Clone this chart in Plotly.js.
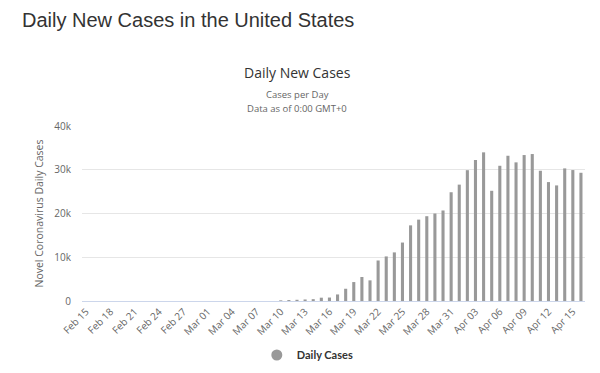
<!DOCTYPE html>
<html>
<head>
<meta charset="utf-8">
<script src="https://cdn.plot.ly/plotly-3.0.1.min.js"></script>
<style>html,body{margin:0;padding:0;background:#fff;}#chart{width:600px;height:373px;}</style>
</head>
<body>
<div id="chart"></div>
<script>
const dates = [
  "Feb 15","Feb 16","Feb 17","Feb 18","Feb 19","Feb 20","Feb 21","Feb 22","Feb 23","Feb 24","Feb 25","Feb 26","Feb 27","Feb 28","Feb 29",
  "Mar 01","Mar 02","Mar 03","Mar 04","Mar 05","Mar 06","Mar 07","Mar 08","Mar 09","Mar 10","Mar 11","Mar 12","Mar 13","Mar 14","Mar 15",
  "Mar 16","Mar 17","Mar 18","Mar 19","Mar 20","Mar 21","Mar 22","Mar 23","Mar 24","Mar 25","Mar 26","Mar 27","Mar 28","Mar 29","Mar 30","Mar 31",
  "Apr 01","Apr 02","Apr 03","Apr 04","Apr 05","Apr 06","Apr 07","Apr 08","Apr 09","Apr 10","Apr 11","Apr 12","Apr 13","Apr 14","Apr 15","Apr 16"
];
const dailyCases = [
  0,0,0,0,0,0,0,0,0,0,0,0,0,0,0,
  0,0,0,0,0,0,0,0,0,150,220,280,350,420,760,
  790,1500,2800,4330,5490,4720,9260,10190,11110,13360,17290,18600,19380,20000,20690,24860,
  26600,29900,32220,33980,25190,30910,33200,31690,33360,33590,29770,27180,26420,30310,29930,29310
];
const tickLabels = dates.filter((d, i) => i % 3 === 0);
const yTicks = [0, 10000, 20000, 30000, 40000];
const yTickText = ["0", "10k", "20k", "30k", "40k"];

const barColor = "#999999";
const traces = [
  {
    type: "bar", x: dates, y: dailyCases, name: "Daily Cases",
    marker: {color: barColor}, showlegend: false,
    hovertemplate: "%{x}: %{y}<extra></extra>"
  },
  {
    type: "scatter", mode: "markers", x: [null], y: [null], name: "Daily Cases",
    marker: {color: barColor, size: 11, symbol: "circle"}, showlegend: true
  }
];

const plotH = 175;
const layout = {
  width: 600, height: 373,
  margin: {l: 82, r: 15, t: 126, b: 72},
  paper_bgcolor: "#fff", plot_bgcolor: "#fff",
  font: {family: "Open Sans, DejaVu Sans, sans-serif", color: "#666", size: 10},
  bargap: 0.62,
  showlegend: true,
  legend: {orientation: "h", xref: "container", yref: "container", x: 0.428, xanchor: "left", y: 1 - 355/373, yanchor: "middle", itemwidth: 30,
           font: {size: 11, color: "#333", weight: "bold", family: "Lato, Open Sans, sans-serif"}},
  xaxis: {
    type: "category", tickvals: tickLabels, ticktext: tickLabels, tickangle: -45, automargin: false,
    showgrid: false, showline: true, linecolor: "#ccd6eb", linewidth: 1,
    ticks: "", tickfont: {size: 10, color: "#666"}, zeroline: false, fixedrange: true
  },
  yaxis: {
    range: [0, 40000], tickvals: yTicks, ticktext: yTickText, automargin: false,
    showgrid: true, gridcolor: "#e6e6e6", zeroline: false, showline: false,
    tickfont: {size: 10, color: "#666"}, ticklen: 0, ticks: "outside", tickcolor: "#fff", ticklabelstandoff: 8,
    title: {text: "Novel Coronavirus Daily Cases", font: {size: 10.5, color: "#666"}, standoff: 8}
  },
  annotations: [
    {text: "Daily New Cases in the United States", xref: "paper", yref: "paper", x: -0.1225, y: 1.0 + 106/plotH, xanchor: "left", yanchor: "middle",
     showarrow: false, font: {family: "Liberation Sans, Arial, sans-serif", size: 20, color: "#333"}},
    {text: "Daily New Cases", xref: "paper", yref: "paper", x: 0.428, y: 1 + 54/plotH, xanchor: "center", yanchor: "middle",
     showarrow: false, font: {family: "Open Sans, sans-serif", size: 14, color: "#333"}},
    {text: "Cases per Day", xref: "paper", yref: "paper", x: 0.428, y: 1 + 32/plotH, xanchor: "center", yanchor: "middle",
     showarrow: false, font: {family: "Open Sans, sans-serif", size: 9.5, color: "#666"}},
    {text: "Data as of 0:00 GMT+0", xref: "paper", yref: "paper", x: 0.428, y: 1 + 18/plotH, xanchor: "center", yanchor: "middle",
     showarrow: false, font: {family: "Open Sans, sans-serif", size: 9.5, color: "#666"}}
  ]
};

Plotly.newPlot("chart", traces, layout, {displayModeBar: false, staticPlot: true});
</script>
</body>
</html>
